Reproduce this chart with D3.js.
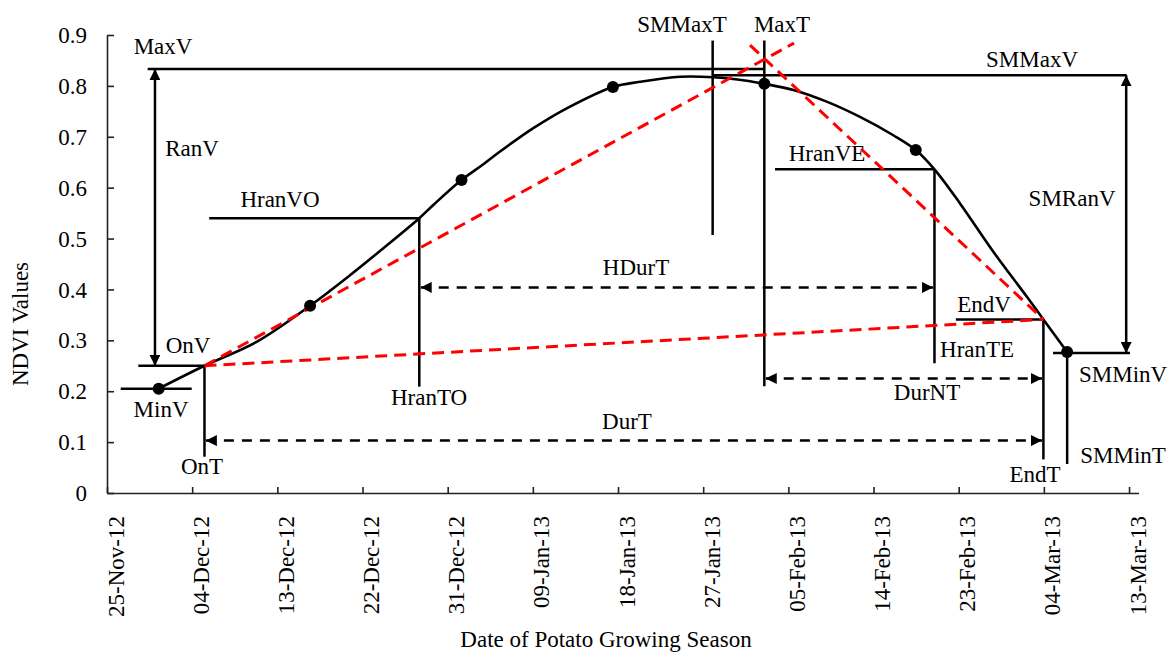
<!DOCTYPE html>
<html><head><meta charset="utf-8">
<script src="https://cdn.jsdelivr.net/npm/d3@7"></script>
<style>
body{margin:0;background:#fff}
svg text{font-family:"Liberation Serif","Times New Roman",serif;font-size:23px;fill:#000}
</style>
</head><body>
<svg id="chart" width="1168" height="653"></svg>
<script>
// ---------------- data ----------------
const seasonStart = "25-Nov-12";
const seasonEnd = "14-Mar-13";
const xTickLabels = ["25-Nov-12","04-Dec-12","13-Dec-12","22-Dec-12","31-Dec-12","09-Jan-13","18-Jan-13","27-Jan-13","05-Feb-13","14-Feb-13","23-Feb-13","04-Mar-13","13-Mar-13"];
const yTickValues = [0,0.1,0.2,0.3,0.4,0.5,0.6,0.7,0.8,0.9];

// 16-day composite observations (days since 25-Nov-12, NDVI)
const compositeDays = [5.46, 21.46, 37.46, 53.46, 69.46, 85.46, 101.46];
const compositeNDVI = [0.205, 0.368, 0.615, 0.798, 0.804, 0.674, 0.277];

// fitted NDVI curve (days since 25-Nov-12, NDVI)
const curveDays = [5.46, 10.30, 15.81, 21.46, 25.68, 29.20, 33.00, 34.48, 37.46, 39.77, 41.53, 45.05, 48.58, 53.46, 56.32, 60.55, 64.07, 67.60, 69.46, 72.53, 76.05, 79.57, 83.09, 85.46, 87.44, 90.14, 93.66, 97.19, 98.95, 101.46];
const curveNDVI = [0.205, 0.250, 0.297, 0.368, 0.428, 0.481, 0.540, 0.566, 0.615, 0.646, 0.671, 0.717, 0.756, 0.798, 0.808, 0.818, 0.817, 0.810, 0.804, 0.792, 0.769, 0.739, 0.703, 0.674, 0.636, 0.569, 0.474, 0.386, 0.341, 0.277];

// phenological metrics (day since 25-Nov-12 / NDVI)
const MinT = 5.46,  MinV = 0.205;
const OnT = 10.30,  OnV = 0.250;
const HranTO = 33.0, HranVO = 0.540;
const SMMaxT = 64.0, SMMaxV = 0.821;
const MaxT = 69.46, MaxV = 0.833;
const HranTE = 87.44, HranVE = 0.636;
const EndT = 98.95, EndV = 0.341;
const SMMinT = 101.46, SMMinV = 0.275;

// ---------------- layout ----------------
const svg = d3.select("#chart");
const parse = d3.utcParse("%d-%b-%y");
const fmt = d3.utcFormat("%d-%b-%y");
const t0 = parse(seasonStart);
const DAY = 86400000;
const toDate = d => new Date(t0.getTime() + d * DAY);

const x = d3.scaleUtc().domain([t0, parse(seasonEnd)]).range([107, 1138.5]);
const y = d3.scaleLinear().domain([0, 0.9]).range([493, 35]);
const X = d => x(toDate(d));
const Y = v => y(v);

// defs: arrowheads
const defs = svg.append("defs");
defs.append("marker").attr("id","arr").attr("viewBox","0 0 10 10")
  .attr("refX",10).attr("refY",5).attr("markerWidth",11).attr("markerHeight",11)
  .attr("markerUnits","userSpaceOnUse").attr("orient","auto-start-reverse")
  .append("path").attr("d","M0,0 L10,5 L0,10 Z").attr("fill","#000");

// axes
const xAxis = d3.axisBottom(x)
  .tickValues(xTickLabels.map(parse))
  .tickFormat(fmt).tickSizeInner(-6).tickSizeOuter(0);
const gx = svg.append("g").attr("transform","translate(0,493)").call(xAxis);
gx.selectAll("text")
  .attr("transform","rotate(-90)")
  .attr("x",-23).attr("y",0).attr("dy","0.7em")
  .attr("text-anchor","end")
  .attr("font-family",null).attr("font-size",null);
gx.attr("font-family",null).attr("font-size",null);
gx.selectAll("path,line").attr("stroke","#222").attr("stroke-width",1.6);

const yAxis = d3.axisLeft(y).tickValues(yTickValues)
  .tickFormat(d => d === 0 ? "0" : d3.format(".1f")(d))
  .tickSizeInner(-7).tickSizeOuter(0);
const gy = svg.append("g").attr("transform","translate(107,0)").call(yAxis);
gy.attr("font-family",null).attr("font-size",null);
gy.selectAll("text").attr("x",-20).attr("dy","0.33em");
gy.selectAll("path,line").attr("stroke","#222").attr("stroke-width",1.6);

// axis titles
svg.append("text").attr("x",606).attr("y",647).attr("text-anchor","middle")
  .text("Date of Potato Growing Season");
svg.append("text").attr("transform","translate(28,324) rotate(-90)")
  .attr("text-anchor","middle").text("NDVI Values");

// annotation segments [day1, v1, day2, v2]
const solidSegs = [
  [4.30, MaxV, MaxT, MaxV],
  [SMMaxT, SMMaxV, 107.75, SMMaxV],
  [3.31, OnV, OnT, OnV],
  [1.45, MinV, 8.95, MinV],
  [OnT, OnV, OnT, 0.0713],
  [10.8, HranVO, HranTO, HranVO],
  [HranTO, HranVO, HranTO, 0.209],
  [SMMaxT, 0.889, SMMaxT, 0.507],
  [MaxT, 0.889, MaxT, 0.21],
  [70.59, HranVE, HranTE, HranVE],
  [HranTE, HranVE, HranTE, 0.255],
  [89.7, EndV, EndT, EndV],
  [EndT, EndV, EndT, 0.066],
  [99.97, SMMinV, 108.1, SMMinV],
  [SMMinT, SMMinV, SMMinT, 0.057]
];
const solidArrows = [
  [5.07, MaxV, 5.07, OnV],
  [107.7, SMMaxV, 107.7, SMMinV]
];
const dashedArrows = [
  [HranTO + 0.15, 0.404, HranTE - 0.15, 0.404],
  [OnT + 0.15, 0.103, EndT - 0.15, 0.103],
  [MaxT + 0.15, 0.225, EndT - 0.15, 0.225]
];
const redSegs = [
  [OnT, OnV, 72.6, 0.884],
  [OnT, OnV, EndT, EndV],
  [67.95, 0.880, EndT, EndV]
];

const drawSeg = (g, s) => g.append("line")
  .attr("x1", X(s[0])).attr("y1", Y(s[1])).attr("x2", X(s[2])).attr("y2", Y(s[3]));

const gAnn = svg.append("g").attr("stroke","#000").attr("stroke-width",2.5).attr("fill","none");
solidSegs.forEach(s => drawSeg(gAnn, s));
solidArrows.forEach(s => drawSeg(gAnn, s).attr("marker-start","url(#arr)").attr("marker-end","url(#arr)"));
dashedArrows.forEach(s => drawSeg(gAnn, s).attr("stroke-dasharray","10,8")
  .attr("marker-start","url(#arr)").attr("marker-end","url(#arr)"));

// fitted curve
const curveData = curveDays.map((d,i) => [d, curveNDVI[i]]);
svg.append("path").datum(curveData)
  .attr("fill","none").attr("stroke","#000").attr("stroke-width",2.6)
  .attr("d", d3.line().x(d => X(d[0])).y(d => Y(d[1])).curve(d3.curveCatmullRom.alpha(0.5)));

// red tangent lines
const gRed = svg.append("g").attr("stroke","#ff0000").attr("stroke-width",3)
  .attr("stroke-dasharray","12,7").attr("fill","none");
redSegs.forEach(s => drawSeg(gRed, s));

// composite points
svg.append("g").selectAll("circle").data(compositeDays).join("circle")
  .attr("cx", d => X(d)).attr("cy", (d,i) => Y(compositeNDVI[i])).attr("r",6).attr("fill","#000");

// labels [text, day, value] (center / baseline)
const labels = [
  ["MaxV", 5.92, 0.863], ["RanV", 8.98, 0.662], ["OnV", 8.56, 0.275],
  ["MinV", 5.71, 0.149], ["OnT", 10.04, 0.037], ["HranVO", 18.28, 0.562],
  ["HranTO", 34.03, 0.173], ["HDurT", 55.90, 0.428], ["DurT", 54.95, 0.126],
  ["SMMaxT", 60.76, 0.906], ["MaxT", 71.33, 0.906], ["SMMaxV", 97.75, 0.837],
  ["HranVE", 76.09, 0.652], ["SMRanV", 101.98, 0.564], ["EndV", 92.68, 0.356],
  ["HranTE", 91.94, 0.267], ["DurNT", 86.65, 0.183], ["SMMinV", 107.37, 0.218],
  ["SMMinT", 107.37, 0.059], ["EndT", 98.07, 0.022]
];
svg.append("g").selectAll("text").data(labels).join("text")
  .attr("x", d => X(d[1])).attr("y", d => Y(d[2]))
  .attr("text-anchor","middle").text(d => d[0]);
</script>
</body></html>
